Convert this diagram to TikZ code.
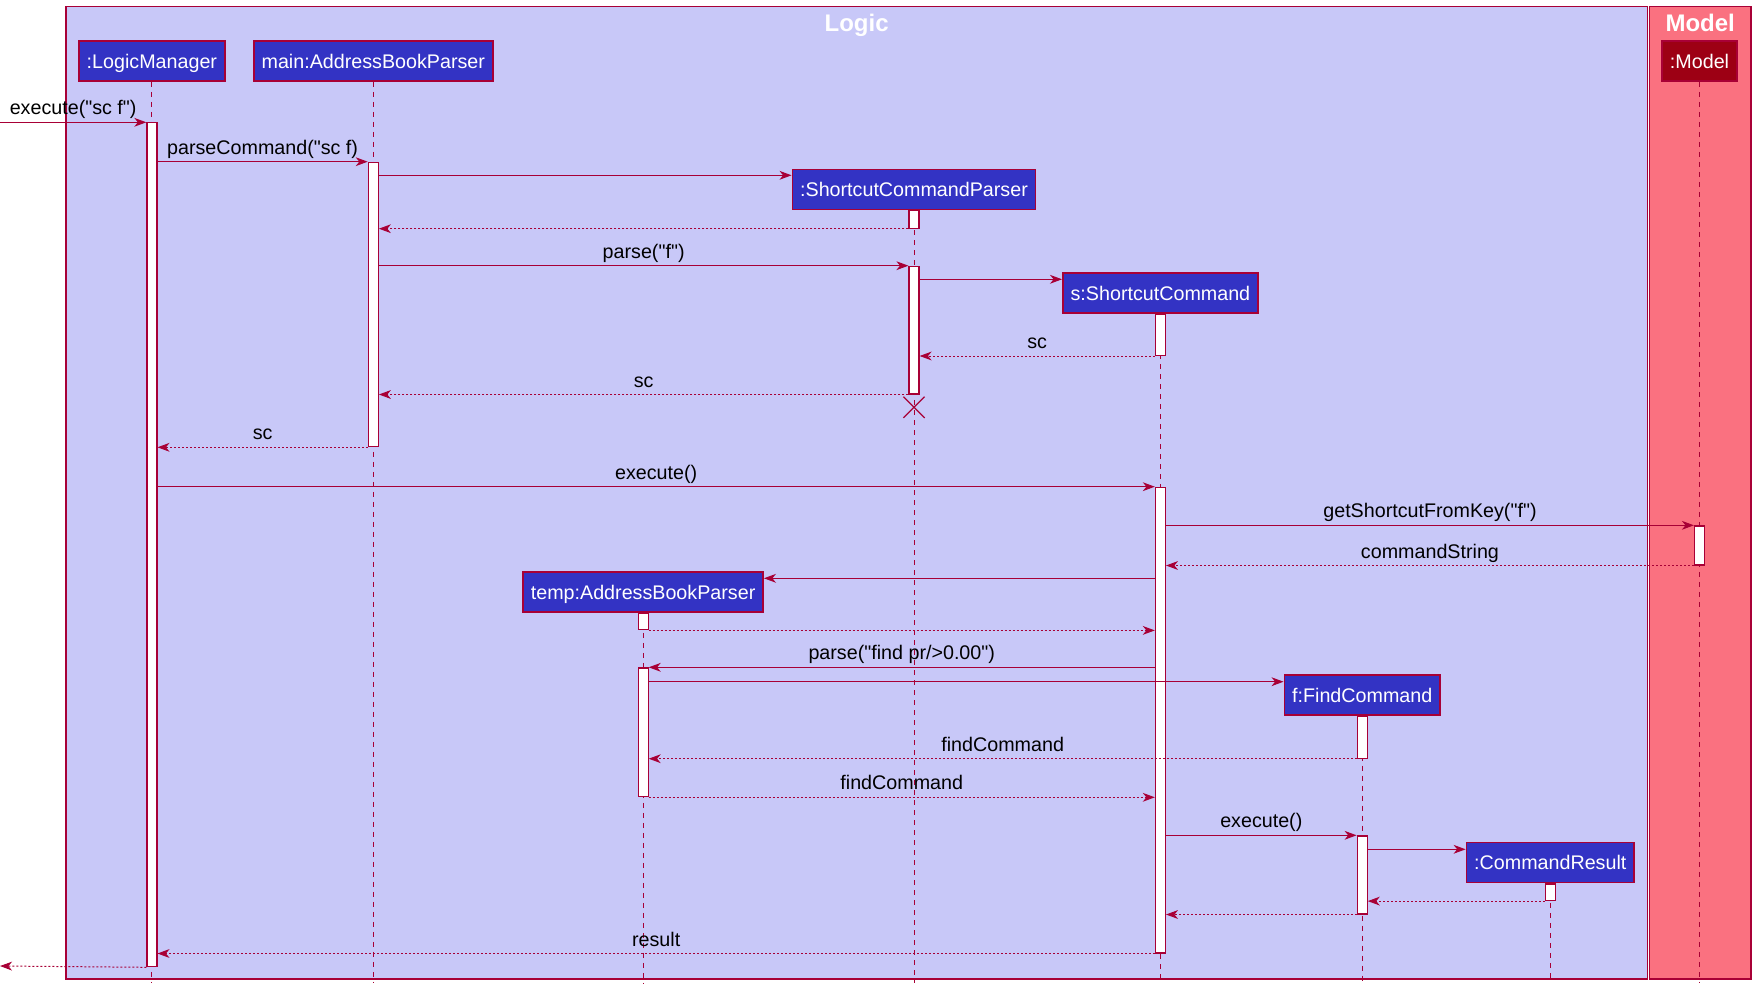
\documentclass[tikz,border=0pt]{standalone}
\usepackage{fontspec}
\setmainfont{Liberation Sans}[Ligatures=TeXOff]
\usepackage{tikz}
\usetikzlibrary{arrows.meta,shapes.misc,positioning}
\definecolor{Crim}{RGB}{168,0,54}
\definecolor{LogicBg}{RGB}{200,200,248}
\definecolor{ModelBg}{RGB}{250,113,128}
\definecolor{PartBlue}{RGB}{51,51,196}
\definecolor{PartRed}{RGB}{157,0,20}

\begin{document}
\begin{tikzpicture}[x=0.5pt,y=-0.5pt,
    font=\fontsize{9.85}{11}\selectfont,
    pane/.style={draw=Crim,line width=0.6pt,anchor=north west,inner sep=0pt},
    panetitle/.style={text=white,font=\fontsize{12}{14}\selectfont\bfseries,anchor=base},
    part/.style={draw=Crim,line width=0.8pt,fill=PartBlue,text=white,minimum height=20pt,inner xsep=3.9pt,inner ysep=0pt,text height=9.3pt,text depth=2pt},
    life/.style={Crim,line width=0.5pt,dash pattern=on 2.5pt off 2.5pt},
    actbox/.style={draw=Crim,fill=white,line width=0.6pt,minimum width=5pt,inner sep=0pt,anchor=north},
    call/.style={Crim,line width=0.5pt,-{Stealth[length=6pt,width=4.4pt,inset=1.8pt]}},
    ret/.style={call,dash pattern=on 1pt off 1pt},
    lbl/.style={midway,above,inner sep=1.5pt,text depth=2pt,text=black},
    kill/.style={cross out,draw=Crim,line width=0.6pt,minimum size=10pt,inner sep=0pt}]
    \useasboundingbox[fill=white] (0,0) rectangle (1755,990);

%   boxes
    \node[pane,fill=LogicBg,minimum width=790.6pt,minimum height=486pt] (logic) at (65.4,6.3) {};
    \node[pane,fill=ModelBg,minimum width=50.85pt,minimum height=486pt] (model) at (1648.7,6.3) {};
    \node[panetitle] (logicT) at ([yshift=-12.7pt]logic.north) {Logic};
    \node[panetitle] (modelT) at ([yshift=-12.7pt]model.north) {Model};

%   participants
    \node[part] (lm) at (151.9,61) {:LogicManager};
    \node[part] (abp) at (373.3,61) {main:AddressBookParser};
    \node[part,fill=PartRed] (mdl) at (1699.5,61) {:Model};
    \node[part] (scp) at (914,189.3) {:ShortcutCommandParser};
    \node[part] (sc) at (1160.4,293.2) {s:ShortcutCommand};
    \node[part] (tabp) at (643.1,592) {temp:AddressBookParser};
    \node[part] (fc) at (1362.2,694.7) {f:FindCommand};
    \node[part] (cr) at (1550.3,862.5) {:CommandResult};

    \foreach \p in {lm,abp,mdl,scp,sc,tabp,fc,cr} {
        \draw[life] (\p.south) -- (\p.south |- 0,983);
    }

%   activations
    \node[actbox,minimum height=421.9pt] (lmA) at (lm.south |- 0,122.3) {};
    \node[actbox,minimum height=142.2pt] (abpA) at (abp.south |- 0,161.7) {};
    \node[actbox,minimum height=8.7pt] (scpA1) at (scp.south) {};
    \node[actbox,minimum height=63.8pt] (scpA2) at (scp.south |- 0,265.7) {};
    \node[actbox,minimum height=20.4pt] (scA1) at (sc.south) {};
    \node[actbox,minimum height=232.8pt] (scA2) at (sc.south |- 0,486.7) {};
    \node[actbox,minimum height=19.5pt] (mdlA) at (mdl.south |- 0,525.3) {};
    \node[actbox,minimum height=8.2pt] (tabpA1) at (tabp.south) {};
    \node[actbox,minimum height=64.4pt] (tabpA2) at (tabp.south |- 0,667.3) {};
    \node[actbox,minimum height=21pt] (fcA1) at (fc.south) {};
    \node[actbox,minimum height=39pt] (fcA2) at (fc.south |- 0,835.3) {};
    \node[actbox,minimum height=8.3pt] (crA) at (cr.south) {};

%   messages
    \coordinate (in) at (0,122.3);
    \coordinate (out) at (0,966);
    \draw[call] (in) -- (lmA.north west) node[lbl] {execute("sc f")};
    \draw[call] (lmA.east |- abpA.north) -- (abpA.north west) node[lbl] {parseCommand("sc f)};
    \draw[call] (abpA.east |- 0,175.3) -- (scp.west |- 0,175.3);
    \draw[ret] (scpA1.south west) -- (abpA.east |- scpA1.south);
    \draw[call] (abpA.east |- scpA2.north) -- (scpA2.north west) node[lbl] {parse("f")};
    \draw[call] (scpA2.east |- 0,279.3) -- (sc.west |- 0,279.3);
    \draw[ret] (scA1.south west) -- (scpA2.east |- scA1.south) node[lbl] {sc};
    \draw[ret] (scpA2.south west) -- (abpA.east |- scpA2.south) node[lbl] {sc};
    \node[kill] (scpX) at (914,407.3) {};
    \draw[ret] (abpA.south west) -- (lmA.east |- abpA.south) node[lbl] {sc};
    \draw[call] (lmA.east |- scA2.north) -- (scA2.north west) node[lbl] {execute()};
    \draw[call] (scA2.east |- mdlA.north) -- (mdlA.north west) node[lbl] {getShortcutFromKey("f")};
    \draw[ret] (mdlA.south west) -- (scA2.east |- mdlA.south) node[lbl] {commandString};
    \draw[call] (scA2.west |- 0,578.3) -- (tabp.east |- 0,578.3);
    \draw[ret] (tabpA1.south east) -- (scA2.west |- tabpA1.south);
    \draw[call] (scA2.west |- tabpA2.north) -- (tabpA2.north east) node[lbl] {parse("find pr/>0.00")};
    \draw[call] (tabpA2.east |- 0,681.7) -- (fc.west |- 0,681.7);
    \draw[ret] (fcA1.south west) -- (tabpA2.east |- fcA1.south) node[lbl] {findCommand};
    \draw[ret] (tabpA2.south east) -- (scA2.west |- tabpA2.south) node[lbl] {findCommand};
    \draw[call] (scA2.east |- fcA2.north) -- (fcA2.north west) node[lbl] {execute()};
    \draw[call] (fcA2.east |- 0,849.3) -- (cr.west |- 0,849.3);
    \draw[ret] (crA.south west) -- (fcA2.east |- crA.south);
    \draw[ret] (fcA2.south west) -- (scA2.east |- fcA2.south);
    \draw[ret] (scA2.south west) -- (lmA.east |- scA2.south) node[lbl] {result};
    \draw[ret] (lmA.south west) -- (out);

\end{tikzpicture}
\end{document}
